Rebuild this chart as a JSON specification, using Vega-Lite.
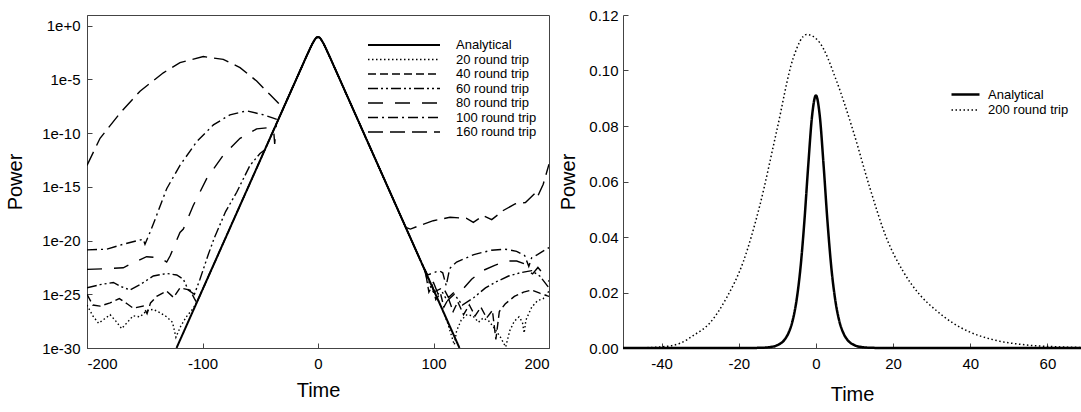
{
  "$schema": "https://vega.github.io/schema/vega-lite/v6.json",
  "padding": {"left": 5, "top": 8, "right": 0, "bottom": 0},
  "background": "white",
  "config": {
    "font": "Liberation Sans",
    "locale": {"number": {"decimal": ".", "thousands": ",", "grouping": [3], "currency": ["$", ""], "minus": "-"}},
    "view": {"stroke": "#444", "strokeWidth": 1},
    "axis": {"domainColor": "#444", "tickColor": "#444", "labelColor": "#000", "titleColor": "#000", "labelFontSize": 15, "titleFontSize": 20, "titleFontWeight": "normal", "grid": false, "tickSize": -5, "labelFont": "Liberation Sans", "titleFont": "Liberation Sans"},
    "legend": {"labelFontSize": 13, "labelColor": "#000", "labelFont": "Liberation Sans", "symbolStrokeColor": "#000", "padding": 0}
  },
  "bounds": "flush",
  "spacing": 74,
  "resolve": {"scale": {"strokeDash": "independent", "strokeWidth": "independent"}, "legend": {"strokeDash": "independent", "strokeWidth": "independent"}},
  "datasets": {
    "left": [
      {"series": "Analytical", "time": -122.5, "power": 1e-30},
      {"series": "Analytical", "time": -10, "power": 1.41e-3},
      {"series": "Analytical", "time": -7, "power": 7.24e-3},
      {"series": "Analytical", "time": -5, "power": 2.0e-2},
      {"series": "Analytical", "time": -3, "power": 4.9e-2},
      {"series": "Analytical", "time": -2, "power": 6.76e-2},
      {"series": "Analytical", "time": -1, "power": 8.51e-2},
      {"series": "Analytical", "time": 0, "power": 9.1e-2},
      {"series": "Analytical", "time": 1, "power": 8.51e-2},
      {"series": "Analytical", "time": 2, "power": 6.76e-2},
      {"series": "Analytical", "time": 3, "power": 4.9e-2},
      {"series": "Analytical", "time": 5, "power": 2.0e-2},
      {"series": "Analytical", "time": 7, "power": 7.24e-3},
      {"series": "Analytical", "time": 10, "power": 1.41e-3},
      {"series": "Analytical", "time": 122.5, "power": 1e-30},

      {"series": "20 round trip", "time": -200, "power": 1e-26},
      {"series": "20 round trip", "time": -195, "power": 1e-27},
      {"series": "20 round trip", "time": -190, "power": 2.0e-28},
      {"series": "20 round trip", "time": -185, "power": 5.0e-28},
      {"series": "20 round trip", "time": -180, "power": 1.26e-27},
      {"series": "20 round trip", "time": -175, "power": 3.16e-28},
      {"series": "20 round trip", "time": -170, "power": 6.31e-29},
      {"series": "20 round trip", "time": -165, "power": 2.51e-28},
      {"series": "20 round trip", "time": -160, "power": 1e-27},
      {"series": "20 round trip", "time": -154, "power": 7.94e-28},
      {"series": "20 round trip", "time": -148, "power": 3.16e-27},
      {"series": "20 round trip", "time": -142.6, "power": 3.98e-27},
      {"series": "20 round trip", "time": -137, "power": 2.0e-27},
      {"series": "20 round trip", "time": -131, "power": 7.94e-28},
      {"series": "20 round trip", "time": -126, "power": 2.51e-28},
      {"series": "20 round trip", "time": -123, "power": 1e-29},
      {"series": "20 round trip", "time": -119, "power": 1e-28},
      {"series": "20 round trip", "time": -114, "power": 7.94e-28},
      {"series": "20 round trip", "time": -108, "power": 5.01e-27},
      {"series": "20 round trip", "time": -104, "power": 2.88e-26},
      {"series": "20 round trip", "time": -10, "power": 1.41e-3},
      {"series": "20 round trip", "time": -5, "power": 2.0e-2},
      {"series": "20 round trip", "time": -2, "power": 6.76e-2},
      {"series": "20 round trip", "time": 0, "power": 9.1e-2},
      {"series": "20 round trip", "time": 2, "power": 6.76e-2},
      {"series": "20 round trip", "time": 5, "power": 2.0e-2},
      {"series": "20 round trip", "time": 10, "power": 1.41e-3},
      {"series": "20 round trip", "time": 108, "power": 3.16e-27},
      {"series": "20 round trip", "time": 112, "power": 2.51e-28},
      {"series": "20 round trip", "time": 116, "power": 1e-29},
      {"series": "20 round trip", "time": 118, "power": 2.0e-30},
      {"series": "20 round trip", "time": 120, "power": 3.98e-29},
      {"series": "20 round trip", "time": 124, "power": 3.98e-28},
      {"series": "20 round trip", "time": 129, "power": 1.26e-27},
      {"series": "20 round trip", "time": 134, "power": 1e-27},
      {"series": "20 round trip", "time": 139, "power": 2.51e-28},
      {"series": "20 round trip", "time": 143, "power": 6.31e-28},
      {"series": "20 round trip", "time": 148, "power": 3.16e-28},
      {"series": "20 round trip", "time": 153, "power": 6.31e-29},
      {"series": "20 round trip", "time": 158, "power": 1e-29},
      {"series": "20 round trip", "time": 162.5, "power": 1.26e-30},
      {"series": "20 round trip", "time": 166, "power": 3.98e-29},
      {"series": "20 round trip", "time": 170, "power": 3.16e-28},
      {"series": "20 round trip", "time": 174, "power": 7.94e-28},
      {"series": "20 round trip", "time": 177, "power": 2.51e-28},
      {"series": "20 round trip", "time": 178.5, "power": 2.51e-29},
      {"series": "20 round trip", "time": 180, "power": 3.98e-28},
      {"series": "20 round trip", "time": 185, "power": 6.31e-27},
      {"series": "20 round trip", "time": 190, "power": 2.51e-26},
      {"series": "20 round trip", "time": 195, "power": 3.98e-26},
      {"series": "20 round trip", "time": 200, "power": 2.0e-25},

      {"series": "40 round trip", "time": -200, "power": 1e-25},
      {"series": "40 round trip", "time": -195, "power": 1e-26},
      {"series": "40 round trip", "time": -188.7, "power": 7.94e-27},
      {"series": "40 round trip", "time": -180, "power": 1.58e-26},
      {"series": "40 round trip", "time": -172, "power": 3.98e-26},
      {"series": "40 round trip", "time": -165, "power": 1.26e-26},
      {"series": "40 round trip", "time": -159.9, "power": 5.01e-27},
      {"series": "40 round trip", "time": -151.3, "power": 7.94e-27},
      {"series": "40 round trip", "time": -148, "power": 1.58e-27},
      {"series": "40 round trip", "time": -145, "power": 1.58e-26},
      {"series": "40 round trip", "time": -139.7, "power": 6.31e-26},
      {"series": "40 round trip", "time": -131, "power": 2.0e-25},
      {"series": "40 round trip", "time": -125, "power": 5.01e-26},
      {"series": "40 round trip", "time": -119.5, "power": 3.98e-25},
      {"series": "40 round trip", "time": -110.8, "power": 2.51e-25},
      {"series": "40 round trip", "time": -107, "power": 3.98e-26},
      {"series": "40 round trip", "time": -105, "power": 1.66e-26},
      {"series": "40 round trip", "time": -10, "power": 1.41e-3},
      {"series": "40 round trip", "time": -5, "power": 2.0e-2},
      {"series": "40 round trip", "time": -2, "power": 6.76e-2},
      {"series": "40 round trip", "time": 0, "power": 9.1e-2},
      {"series": "40 round trip", "time": 2, "power": 6.76e-2},
      {"series": "40 round trip", "time": 5, "power": 2.0e-2},
      {"series": "40 round trip", "time": 10, "power": 1.41e-3},
      {"series": "40 round trip", "time": 93, "power": 1.32e-23},
      {"series": "40 round trip", "time": 96, "power": 1.58e-25},
      {"series": "40 round trip", "time": 99, "power": 6.31e-25},
      {"series": "40 round trip", "time": 102, "power": 3.16e-26},
      {"series": "40 round trip", "time": 106, "power": 1.26e-25},
      {"series": "40 round trip", "time": 109, "power": 6.31e-27},
      {"series": "40 round trip", "time": 113, "power": 3.98e-26},
      {"series": "40 round trip", "time": 117, "power": 2.51e-27},
      {"series": "40 round trip", "time": 121, "power": 2.0e-26},
      {"series": "40 round trip", "time": 126, "power": 1.26e-27},
      {"series": "40 round trip", "time": 131, "power": 1e-26},
      {"series": "40 round trip", "time": 136, "power": 1e-27},
      {"series": "40 round trip", "time": 141, "power": 6.31e-27},
      {"series": "40 round trip", "time": 146, "power": 6.31e-28},
      {"series": "40 round trip", "time": 151, "power": 3.16e-27},
      {"series": "40 round trip", "time": 154, "power": 6.31e-30},
      {"series": "40 round trip", "time": 157, "power": 2.51e-27},
      {"series": "40 round trip", "time": 162, "power": 1.26e-26},
      {"series": "40 round trip", "time": 170, "power": 6.31e-26},
      {"series": "40 round trip", "time": 178, "power": 1.58e-25},
      {"series": "40 round trip", "time": 185, "power": 2.51e-25},
      {"series": "40 round trip", "time": 192, "power": 1.26e-25},
      {"series": "40 round trip", "time": 200, "power": 6.31e-26},

      {"series": "60 round trip", "time": -200, "power": 3.98e-25},
      {"series": "60 round trip", "time": -188.7, "power": 7.94e-25},
      {"series": "60 round trip", "time": -177.2, "power": 1.26e-24},
      {"series": "60 round trip", "time": -171.4, "power": 5.62e-25},
      {"series": "60 round trip", "time": -162.8, "power": 2.51e-25},
      {"series": "60 round trip", "time": -154.1, "power": 7.94e-25},
      {"series": "60 round trip", "time": -142.6, "power": 5.01e-24},
      {"series": "60 round trip", "time": -131, "power": 8.71e-24},
      {"series": "60 round trip", "time": -122.3, "power": 6.31e-24},
      {"series": "60 round trip", "time": -116.6, "power": 2.51e-24},
      {"series": "60 round trip", "time": -112.3, "power": 2.51e-25},
      {"series": "60 round trip", "time": -107, "power": 1e-25},
      {"series": "60 round trip", "time": -102.2, "power": 2.51e-24},
      {"series": "60 round trip", "time": -95, "power": 5.01e-22},
      {"series": "60 round trip", "time": -89.6, "power": 2.0e-20},
      {"series": "60 round trip", "time": -80, "power": 5.01e-18},
      {"series": "60 round trip", "time": -70.4, "power": 3.16e-16},
      {"series": "60 round trip", "time": -58.9, "power": 1e-13},
      {"series": "60 round trip", "time": -50.2, "power": 1.26e-12},
      {"series": "60 round trip", "time": -46, "power": 2.88e-12},
      {"series": "60 round trip", "time": -10, "power": 1.41e-3},
      {"series": "60 round trip", "time": -5, "power": 2.0e-2},
      {"series": "60 round trip", "time": -2, "power": 6.76e-2},
      {"series": "60 round trip", "time": 0, "power": 9.1e-2},
      {"series": "60 round trip", "time": 2, "power": 6.76e-2},
      {"series": "60 round trip", "time": 5, "power": 2.0e-2},
      {"series": "60 round trip", "time": 10, "power": 1.41e-3},
      {"series": "60 round trip", "time": 94, "power": 7.59e-24},
      {"series": "60 round trip", "time": 97, "power": 6.31e-25},
      {"series": "60 round trip", "time": 100, "power": 1.58e-25},
      {"series": "60 round trip", "time": 106, "power": 3.16e-25},
      {"series": "60 round trip", "time": 112, "power": 2.51e-26},
      {"series": "60 round trip", "time": 118, "power": 1e-25},
      {"series": "60 round trip", "time": 125, "power": 1e-26},
      {"series": "60 round trip", "time": 135, "power": 5.01e-26},
      {"series": "60 round trip", "time": 145, "power": 3.98e-25},
      {"series": "60 round trip", "time": 155, "power": 1.58e-24},
      {"series": "60 round trip", "time": 165, "power": 5.01e-24},
      {"series": "60 round trip", "time": 175, "power": 1e-23},
      {"series": "60 round trip", "time": 185, "power": 1.58e-23},
      {"series": "60 round trip", "time": 192, "power": 5.01e-24},
      {"series": "60 round trip", "time": 200, "power": 3.98e-25},

      {"series": "80 round trip", "time": -200, "power": 2.09e-23},
      {"series": "80 round trip", "time": -183, "power": 2.4e-23},
      {"series": "80 round trip", "time": -168.6, "power": 2.95e-23},
      {"series": "80 round trip", "time": -159.9, "power": 8.71e-23},
      {"series": "80 round trip", "time": -148.4, "power": 3.16e-22},
      {"series": "80 round trip", "time": -136.8, "power": 2.51e-22},
      {"series": "80 round trip", "time": -131, "power": 1e-22},
      {"series": "80 round trip", "time": -128.1, "power": 3.63e-22},
      {"series": "80 round trip", "time": -119.5, "power": 5.75e-20},
      {"series": "80 round trip", "time": -116.6, "power": 1.17e-19},
      {"series": "80 round trip", "time": -108, "power": 1.82e-17},
      {"series": "80 round trip", "time": -96.4, "power": 5.89e-15},
      {"series": "80 round trip", "time": -82, "power": 8.91e-13},
      {"series": "80 round trip", "time": -67.5, "power": 3.31e-11},
      {"series": "80 round trip", "time": -53.1, "power": 2.51e-10},
      {"series": "80 round trip", "time": -41.6, "power": 3.39e-10},
      {"series": "80 round trip", "time": -38.5, "power": 2.51e-10},
      {"series": "80 round trip", "time": -37.5, "power": 1e-11},
      {"series": "80 round trip", "time": -36, "power": 7.41e-10},
      {"series": "80 round trip", "time": -10, "power": 1.41e-3},
      {"series": "80 round trip", "time": -5, "power": 2.0e-2},
      {"series": "80 round trip", "time": -2, "power": 6.76e-2},
      {"series": "80 round trip", "time": 0, "power": 9.1e-2},
      {"series": "80 round trip", "time": 2, "power": 6.76e-2},
      {"series": "80 round trip", "time": 5, "power": 2.0e-2},
      {"series": "80 round trip", "time": 10, "power": 1.41e-3},
      {"series": "80 round trip", "time": 92, "power": 2.29e-23},
      {"series": "80 round trip", "time": 96, "power": 6.31e-25},
      {"series": "80 round trip", "time": 100, "power": 1.26e-24},
      {"series": "80 round trip", "time": 104, "power": 1e-25},
      {"series": "80 round trip", "time": 108, "power": 5.01e-25},
      {"series": "80 round trip", "time": 113, "power": 5.01e-26},
      {"series": "80 round trip", "time": 118, "power": 1.58e-25},
      {"series": "80 round trip", "time": 124, "power": 2.0e-25},
      {"series": "80 round trip", "time": 133, "power": 2.51e-24},
      {"series": "80 round trip", "time": 142.5, "power": 1.58e-23},
      {"series": "80 round trip", "time": 153, "power": 5.01e-23},
      {"series": "80 round trip", "time": 164, "power": 1.26e-22},
      {"series": "80 round trip", "time": 172, "power": 1.26e-22},
      {"series": "80 round trip", "time": 179.6, "power": 6.31e-23},
      {"series": "80 round trip", "time": 183, "power": 1.26e-23},
      {"series": "80 round trip", "time": 185.8, "power": 7.94e-24},
      {"series": "80 round trip", "time": 190.4, "power": 3.16e-23},
      {"series": "80 round trip", "time": 195, "power": 7.94e-24},
      {"series": "80 round trip", "time": 200, "power": 1.58e-24},

      {"series": "100 round trip", "time": -200, "power": 1.35e-21},
      {"series": "100 round trip", "time": -183, "power": 1.58e-21},
      {"series": "100 round trip", "time": -168.6, "power": 4.57e-21},
      {"series": "100 round trip", "time": -151.3, "power": 1.35e-20},
      {"series": "100 round trip", "time": -149.8, "power": 4.57e-21},
      {"series": "100 round trip", "time": -145.5, "power": 5.75e-20},
      {"series": "100 round trip", "time": -142, "power": 5.01e-19},
      {"series": "100 round trip", "time": -131, "power": 6.76e-16},
      {"series": "100 round trip", "time": -119.5, "power": 1.02e-13},
      {"series": "100 round trip", "time": -105, "power": 1.62e-11},
      {"series": "100 round trip", "time": -90.6, "power": 5.89e-10},
      {"series": "100 round trip", "time": -76.2, "power": 5.13e-9},
      {"series": "100 round trip", "time": -61.7, "power": 1.2e-8},
      {"series": "100 round trip", "time": -47.4, "power": 5.13e-9},
      {"series": "100 round trip", "time": -38.7, "power": 2.51e-9},
      {"series": "100 round trip", "time": -34.5, "power": 1.74e-9},
      {"series": "100 round trip", "time": -10, "power": 1.41e-3},
      {"series": "100 round trip", "time": -5, "power": 2.0e-2},
      {"series": "100 round trip", "time": -2, "power": 6.76e-2},
      {"series": "100 round trip", "time": 0, "power": 9.1e-2},
      {"series": "100 round trip", "time": 2, "power": 6.76e-2},
      {"series": "100 round trip", "time": 5, "power": 2.0e-2},
      {"series": "100 round trip", "time": 10, "power": 1.41e-3},
      {"series": "100 round trip", "time": 90, "power": 6.92e-23},
      {"series": "100 round trip", "time": 95, "power": 6.31e-24},
      {"series": "100 round trip", "time": 100, "power": 1e-23},
      {"series": "100 round trip", "time": 105, "power": 1.58e-23},
      {"series": "100 round trip", "time": 108, "power": 1e-23},
      {"series": "100 round trip", "time": 111, "power": 6.31e-25},
      {"series": "100 round trip", "time": 114, "power": 2.51e-23},
      {"series": "100 round trip", "time": 120, "power": 1e-22},
      {"series": "100 round trip", "time": 135, "power": 5.01e-22},
      {"series": "100 round trip", "time": 150, "power": 1.26e-21},
      {"series": "100 round trip", "time": 162, "power": 1.58e-21},
      {"series": "100 round trip", "time": 172, "power": 1e-21},
      {"series": "100 round trip", "time": 179, "power": 3.98e-22},
      {"series": "100 round trip", "time": 182.5, "power": 3.98e-23},
      {"series": "100 round trip", "time": 185, "power": 2.51e-22},
      {"series": "100 round trip", "time": 190, "power": 5.01e-22},
      {"series": "100 round trip", "time": 200, "power": 2.24e-21},

      {"series": "160 round trip", "time": -200, "power": 1e-13},
      {"series": "160 round trip", "time": -188.7, "power": 3.31e-11},
      {"series": "160 round trip", "time": -171.4, "power": 7.24e-9},
      {"series": "160 round trip", "time": -154.1, "power": 8.13e-7},
      {"series": "160 round trip", "time": -133.9, "power": 4.17e-5},
      {"series": "160 round trip", "time": -119.5, "power": 3.63e-4},
      {"series": "160 round trip", "time": -99.3, "power": 1.35e-3},
      {"series": "160 round trip", "time": -82, "power": 7.41e-4},
      {"series": "160 round trip", "time": -67.5, "power": 1.26e-4},
      {"series": "160 round trip", "time": -53.1, "power": 7.08e-6},
      {"series": "160 round trip", "time": -41.6, "power": 3.89e-7},
      {"series": "160 round trip", "time": -34.4, "power": 6.46e-8},
      {"series": "160 round trip", "time": -30, "power": 2.09e-8},
      {"series": "160 round trip", "time": -10, "power": 1.41e-3},
      {"series": "160 round trip", "time": -5, "power": 2.0e-2},
      {"series": "160 round trip", "time": -2, "power": 6.76e-2},
      {"series": "160 round trip", "time": 0, "power": 9.1e-2},
      {"series": "160 round trip", "time": 2, "power": 6.76e-2},
      {"series": "160 round trip", "time": 5, "power": 2.0e-2},
      {"series": "160 round trip", "time": 10, "power": 1.41e-3},
      {"series": "160 round trip", "time": 76, "power": 1.66e-19},
      {"series": "160 round trip", "time": 80, "power": 1.17e-19},
      {"series": "160 round trip", "time": 88, "power": 2.51e-19},
      {"series": "160 round trip", "time": 99.8, "power": 7.08e-19},
      {"series": "160 round trip", "time": 114.3, "power": 1.48e-18},
      {"series": "160 round trip", "time": 128.7, "power": 1.17e-18},
      {"series": "160 round trip", "time": 134.5, "power": 5.01e-19},
      {"series": "160 round trip", "time": 143.1, "power": 2.09e-18},
      {"series": "160 round trip", "time": 150.4, "power": 8.91e-19},
      {"series": "160 round trip", "time": 160.4, "power": 6.31e-18},
      {"series": "160 round trip", "time": 170.6, "power": 2.63e-17},
      {"series": "160 round trip", "time": 179.6, "power": 3.47e-17},
      {"series": "160 round trip", "time": 188.9, "power": 3.16e-16},
      {"series": "160 round trip", "time": 190.4, "power": 1.45e-16},
      {"series": "160 round trip", "time": 195, "power": 1.78e-15},
      {"series": "160 round trip", "time": 200, "power": 1.26e-13}
    ],
    "right": [
      {"curve": "Analytical", "time": -50, "power": 0},
      {"curve": "Analytical", "time": -20, "power": 0},
      {"curve": "Analytical", "time": -15, "power": 0.00005},
      {"curve": "Analytical", "time": -12, "power": 0.00031},
      {"curve": "Analytical", "time": -10, "power": 0.00101},
      {"curve": "Analytical", "time": -8, "power": 0.00323},
      {"curve": "Analytical", "time": -7, "power": 0.00574},
      {"curve": "Analytical", "time": -6, "power": 0.01006},
      {"curve": "Analytical", "time": -5, "power": 0.0174},
      {"curve": "Analytical", "time": -4, "power": 0.0289},
      {"curve": "Analytical", "time": -3, "power": 0.0455},
      {"curve": "Analytical", "time": -2, "power": 0.0656},
      {"curve": "Analytical", "time": -1, "power": 0.0836},
      {"curve": "Analytical", "time": 0, "power": 0.091},
      {"curve": "Analytical", "time": 1, "power": 0.0836},
      {"curve": "Analytical", "time": 2, "power": 0.0656},
      {"curve": "Analytical", "time": 3, "power": 0.0455},
      {"curve": "Analytical", "time": 4, "power": 0.0289},
      {"curve": "Analytical", "time": 5, "power": 0.0174},
      {"curve": "Analytical", "time": 6, "power": 0.01006},
      {"curve": "Analytical", "time": 7, "power": 0.00574},
      {"curve": "Analytical", "time": 8, "power": 0.00323},
      {"curve": "Analytical", "time": 10, "power": 0.00101},
      {"curve": "Analytical", "time": 12, "power": 0.00031},
      {"curve": "Analytical", "time": 15, "power": 0.00005},
      {"curve": "Analytical", "time": 20, "power": 0},
      {"curve": "Analytical", "time": 68.7, "power": 0},

      {"curve": "200 round trip", "time": -50, "power": 0},
      {"curve": "200 round trip", "time": -44.7, "power": 0.0001},
      {"curve": "200 round trip", "time": -40, "power": 0.0004},
      {"curve": "200 round trip", "time": -35, "power": 0.0018},
      {"curve": "200 round trip", "time": -31.8, "power": 0.0045},
      {"curve": "200 round trip", "time": -27.5, "power": 0.009},
      {"curve": "200 round trip", "time": -23.2, "power": 0.018},
      {"curve": "200 round trip", "time": -18.8, "power": 0.0312},
      {"curve": "200 round trip", "time": -14.5, "power": 0.0516},
      {"curve": "200 round trip", "time": -10.2, "power": 0.078},
      {"curve": "200 round trip", "time": -5.9, "power": 0.1044},
      {"curve": "200 round trip", "time": -2.4, "power": 0.113},
      {"curve": "200 round trip", "time": 1.0, "power": 0.110},
      {"curve": "200 round trip", "time": 5.4, "power": 0.096},
      {"curve": "200 round trip", "time": 9.7, "power": 0.078},
      {"curve": "200 round trip", "time": 14.0, "power": 0.0576},
      {"curve": "200 round trip", "time": 18.3, "power": 0.0396},
      {"curve": "200 round trip", "time": 22.6, "power": 0.0276},
      {"curve": "200 round trip", "time": 26.9, "power": 0.0192},
      {"curve": "200 round trip", "time": 31.2, "power": 0.0135},
      {"curve": "200 round trip", "time": 35.5, "power": 0.009},
      {"curve": "200 round trip", "time": 39.8, "power": 0.0058},
      {"curve": "200 round trip", "time": 45.9, "power": 0.003},
      {"curve": "200 round trip", "time": 54.5, "power": 0.0011},
      {"curve": "200 round trip", "time": 63.2, "power": 0.0004},
      {"curve": "200 round trip", "time": 68.7, "power": 0.0002}
    ]
  },
  "hconcat": [
    {
      "width": 462,
      "height": 333,
      "data": {"name": "left"},
      "mark": {"type": "line", "clip": true, "color": "#000"},
      "encoding": {
        "x": {"field": "time", "type": "quantitative", "scale": {"domain": [-200, 200], "nice": false},
              "axis": {"title": "Time", "values": [-200, -100, 0, 100, 200], "labelPadding": 13, "titlePadding": 9}},
        "y": {"field": "power", "type": "quantitative", "scale": {"type": "log", "domain": [1e-30, 10], "nice": false},
              "axis": {"title": "Power", "values": [1e-30, 1e-25, 1e-20, 1e-15, 1e-10, 1e-5, 1], "format": ".0e", "labelPadding": 12, "titlePadding": 16}},
        "strokeDash": {"field": "series", "type": "nominal",
              "scale": {"domain": ["Analytical", "20 round trip", "40 round trip", "60 round trip", "80 round trip", "100 round trip", "160 round trip"],
                        "range": [[1, 0], [1.5, 2.5], [8, 4], [10, 3, 2, 3, 2, 3], [15, 12], [10, 4, 2, 4], [15, 7]]},
              "legend": {"title": null, "orient": "none", "legendX": 310, "legendY": 23, "symbolType": "M-6,0H6", "symbolSize": 144, "labelOffset": 45, "rowPadding": 0.5}},
        "strokeWidth": {"field": "series", "type": "nominal",
              "scale": {"type": "ordinal", "domain": ["Analytical", "20 round trip", "40 round trip", "60 round trip", "80 round trip", "100 round trip", "160 round trip"],
                        "range": [2, 1.4, 1.4, 1.4, 1.4, 1.4, 1.4]},
              "legend": {"title": null, "orient": "none", "legendX": 310, "legendY": 23, "symbolType": "M-6,0H6", "symbolSize": 144, "labelOffset": 45, "rowPadding": 0.5}}
      }
    },
    {
      "width": 458,
      "height": 333,
      "view": {"stroke": null},
      "layer": [
        {
          "data": {"name": "right"},
          "mark": {"type": "line", "interpolate": "monotone", "color": "#000"},
          "encoding": {
            "x": {"field": "time", "type": "quantitative", "scale": {"domain": [-50, 68.7], "nice": false},
                  "axis": {"title": "Time", "values": [-40, -20, 0, 20, 40, 60], "labelPadding": 13, "titlePadding": 13}},
            "y": {"field": "power", "type": "quantitative", "scale": {"domain": [0, 0.12], "nice": false},
                  "axis": {"title": "Power", "values": [0, 0.02, 0.04, 0.06, 0.08, 0.1, 0.12], "format": ".2f", "labelPadding": 10, "titlePadding": 10}},
            "strokeDash": {"field": "curve", "type": "nominal",
                  "scale": {"domain": ["Analytical", "200 round trip"], "range": [[1, 0], [1.5, 2.5]]},
                  "legend": {"title": null, "orient": "none", "legendX": 334, "legendY": 71, "symbolType": "M-2,0H2", "symbolSize": 196, "labelOffset": 14, "rowPadding": 0}},
            "strokeWidth": {"field": "curve", "type": "nominal",
                  "scale": {"type": "ordinal", "domain": ["Analytical", "200 round trip"], "range": [2.5, 1.5]},
                  "legend": {"title": null, "orient": "none", "legendX": 334, "legendY": 71, "symbolType": "M-2,0H2", "symbolSize": 196, "labelOffset": 14, "rowPadding": 0}}
          }
        },
        {
          "mark": {"type": "rule", "color": "#444", "strokeWidth": 1},
          "encoding": {"y": {"datum": 0.12}}
        }
      ]
    }
  ]
}
